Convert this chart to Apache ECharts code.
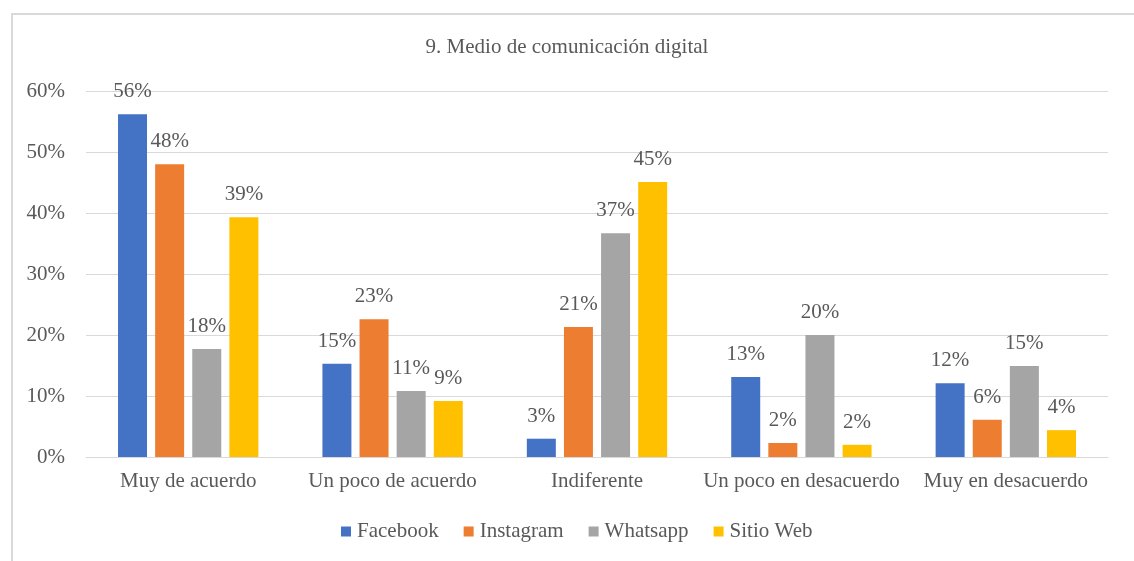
<!DOCTYPE html>
<html>
<head>
<meta charset="utf-8">
<script src="https://cdn.jsdelivr.net/npm/echarts@6/dist/echarts.min.js"></script>
<style>
html,body{margin:0;padding:0;background:#fff;overflow:hidden;}
#frame{position:absolute;left:11px;top:13px;width:1200px;height:700px;border:2px solid #D9D9D9;box-sizing:border-box;}
#chart{position:absolute;left:0;top:0;width:1134px;height:561px;}
</style>
</head>
<body>
<div id="frame"></div>
<div id="chart"></div>
<script>
const titleText = '9. Medio de comunicación digital';
const categories = ['Muy de acuerdo', 'Un poco de acuerdo', 'Indiferente', 'Un poco en desacuerdo', 'Muy en desacuerdo'];
const seriesNames = ['Facebook', 'Instagram', 'Whatsapp', 'Sitio Web'];
const facebook = [0.562, 0.153, 0.030, 0.131, 0.121];
const instagram = [0.480, 0.226, 0.213, 0.023, 0.061];
const whatsapp = [0.177, 0.108, 0.367, 0.200, 0.149];
const sitioWeb = [0.393, 0.092, 0.451, 0.020, 0.044];
const colors = ['#4472C4', '#ED7D31', '#A5A5A5', '#FFC000'];

const font = '"Liberation Serif", "Times New Roman", serif';
const textColor = '#595959';
const allData = [facebook, instagram, whatsapp, sitioWeb];

const chart = echarts.init(document.getElementById('chart'), null, {renderer: 'canvas'});
chart.setOption({
  animation: false,
  color: colors,
  title: {
    text: titleText, left: 'center', top: 32,
    textStyle: {fontFamily: font, fontSize: 21, fontWeight: 'normal', color: textColor}
  },
  legend: {
    bottom: 14, left: 336,
    itemWidth: 10, itemHeight: 10, itemGap: 25,
    icon: 'rect',
    textStyle: {fontFamily: font, fontSize: 21, color: textColor, padding: [0, 0, 0, 1]},
    data: seriesNames
  },
  grid: {left: 86, right: 26, top: 91, bottom: 104, containLabel: false},
  xAxis: {
    type: 'category', data: categories,
    axisLine: {lineStyle: {color: '#D9D9D9', width: 1}},
    axisTick: {show: false},
    axisLabel: {fontFamily: font, fontSize: 21, color: textColor, margin: 14, interval: 0}
  },
  yAxis: {
    type: 'value', min: 0, max: 0.6, interval: 0.1,
    axisLine: {show: false}, axisTick: {show: false},
    splitLine: {lineStyle: {color: '#D9D9D9', width: 1}},
    axisLabel: {fontFamily: font, fontSize: 21, color: textColor, margin: 21,
      formatter: v => Math.round(v * 100) + '%'}
  },
  series: seriesNames.map((name, i) => ({
    name: name, type: 'bar', data: allData[i],
    barWidth: 29, barGap: '28%',
    label: {
      show: true, position: 'top', distance: 12,
      fontFamily: font, fontSize: 21, color: textColor,
      formatter: p => Math.round(p.value * 100) + '%'
    }
  }))
});
</script>
</body>
</html>
